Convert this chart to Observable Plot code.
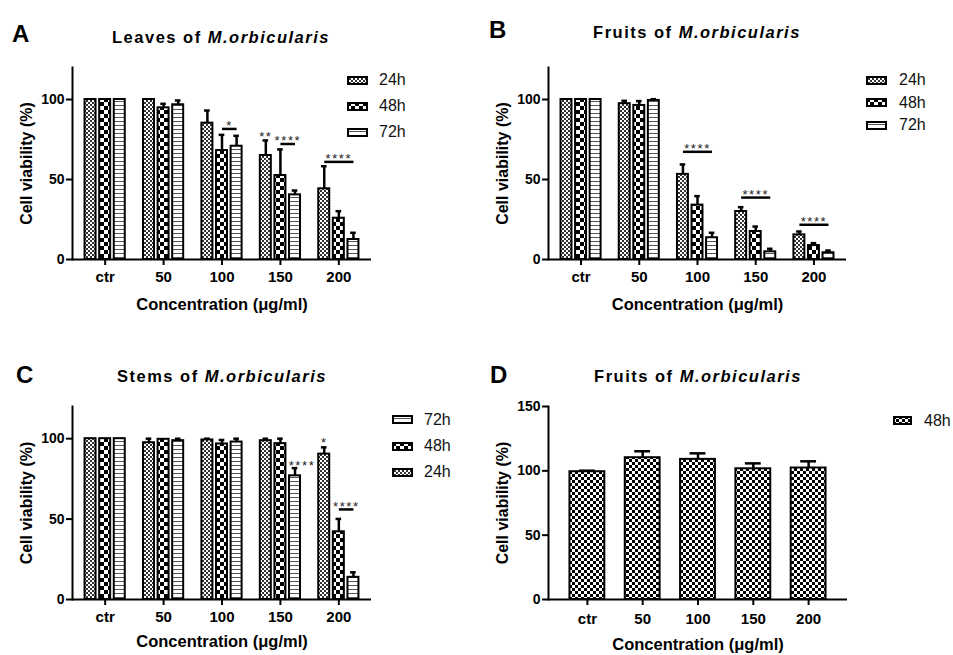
<!DOCTYPE html>
<html>
<head>
<meta charset="utf-8">
<script src="https://cdn.jsdelivr.net/npm/d3@7"></script>
<script src="https://cdn.jsdelivr.net/npm/@observablehq/plot@0.6"></script>
<style>
  body { margin: 0; background: #fff; font-family: "Liberation Sans", Arial, sans-serif; }
  #root { position: relative; width: 953px; height: 655px; overflow: hidden; background: #fff; }
  .abs { position: absolute; white-space: nowrap; line-height: 1; color: #000; }
  .letter { font-size: 24px; font-weight: bold; line-height: 24px; }
  .title { font-size: 16.5px; font-weight: bold; line-height: 16.5px; letter-spacing: 1.5px; transform: translateX(-50%); }
  .legtext { font-size: 16px; line-height: 16px; color: #111; }
  svg [aria-label="x-axis tick label"] { font-size: 15px; }
  svg [aria-label="y-axis label"] { font-size: 16px; }
  svg [aria-label="x-axis label"] { font-size: 16.5px; }
  svg [aria-label="text"] text { letter-spacing: 1.6px; }
</style>
</head>
<body>
<svg width="0" height="0" style="position:absolute">
  <defs>
    <pattern id="p24" width="4" height="4" patternUnits="userSpaceOnUse">
      <rect width="4" height="4" fill="#fff"/><rect width="2" height="2" fill="#333"/><rect x="2" y="2" width="2" height="2" fill="#333"/>
    </pattern>
    <pattern id="p48" width="8" height="8" patternUnits="userSpaceOnUse">
      <rect width="8" height="8" fill="#fff"/><rect width="4" height="4" fill="#000"/><rect x="4" y="4" width="4" height="4" fill="#000"/>
    </pattern>
    <pattern id="p72" width="4" height="4" patternUnits="userSpaceOnUse">
      <rect width="4" height="4" fill="#fff"/><rect y="3" width="4" height="1" fill="#555"/>
    </pattern>
    <pattern id="pD" width="6" height="6" patternUnits="userSpaceOnUse">
      <rect width="6" height="6" fill="#fff"/><rect width="3" height="3" fill="#000"/><rect x="3" y="3" width="3" height="3" fill="#000"/>
    </pattern>
  </defs>
</svg>
<div id="root"></div>
<script>
// ---------- data ----------
const concentrations = ["ctr", "50", "100", "150", "200"];
const timePoints = ["24h", "48h", "72h"];
const yTicksABC = [0, 50, 100];
const yTicksD = [0, 50, 100, 150];

// A: Leaves of M.orbicularis
const leaves24 = [100, 100, 85.2, 65.0, 44.2];
const leaves24Err = [0, 0, 7.9, 9.4, 14.1];
const leaves48 = [100, 94.8, 68.1, 52.5, 25.8];
const leaves48Err = [0, 2.5, 9.8, 16.3, 4.4];
const leaves72 = [100, 96.7, 70.8, 40.4, 12.5];
const leaves72Err = [0, 2.7, 6.5, 2.7, 4.2];
const leavesBrackets = [
  {c: "100", from: "48h", to: "72h", y: 81.6, label: "*"},
  {c: "150", from: "48h", to: "72h", y: 72.2, label: "****"},
  {c: "200", from: "24h", to: "72h", y: 61.0, label: "****"}
];
const leavesStars = [{c: "150", s: "24h", y: 74, label: "**"}];
const leavesSideStars = [];

// B: Fruits of M.orbicularis
const fruits24 = [100, 97.4, 53.2, 30.0, 15.4];
const fruits24Err = [0, 1.8, 6.2, 2.7, 2.1];
const fruits48 = [100, 96.3, 34.0, 17.5, 8.7];
const fruits48Err = [0, 2.7, 5.6, 3.1, 1.5];
const fruits72 = [100, 99.4, 13.6, 4.8, 4.2];
const fruits72Err = [0, 0.8, 3.1, 1.9, 1.4];
const fruitsBrackets = [
  {c: "100", from: "24h", to: "72h", y: 67.3, label: "****"},
  {c: "150", from: "24h", to: "72h", y: 38.7, label: "****"},
  {c: "200", from: "24h", to: "72h", y: 21.7, label: "****"}
];
const fruitsStars = [];
const fruitsSideStars = [];

// C: Stems of M.orbicularis
const stems24 = [100, 97.5, 99.2, 98.75, 90.4];
const stems24Err = [0, 2.5, 0.8, 1.2, 4.2];
const stems48 = [100, 99.6, 96.7, 96.9, 42.1];
const stems48Err = [0, 0, 2.5, 3.1, 8.0];
const stems72 = [100, 98.75, 97.9, 76.9, 13.8];
const stems72Err = [0, 1.2, 2.1, 4.8, 3.1];
const stemsBrackets = [{c: "200", from: "48h", to: "72h", y: 56.0, label: "****"}];
const stemsStars = [{c: "200", s: "24h", y: 94.6, label: "*"}];
const stemsSideStars = [{c: "150", s: "72h", y: 80.8, label: "****"}];

// D: Fruits of M.orbicularis, 48h
const fruitsD48 = [99.3, 110.2, 108.9, 101.6, 102.2];
const fruitsD48Err = [0.8, 5.0, 4.7, 4.2, 5.2];

// ---------- helpers ----------
const patterns = {"24h": "url(#p24)", "48h": "url(#p48)", "72h": "url(#p72)"};
const FONT = '"Liberation Sans", Arial, sans-serif';
const key = (c, t) => `${c}|${t}`;
function slotDomain() {
  const d = [];
  concentrations.forEach((c, i) => {
    if (i > 0) d.push(`gap|${c}`);
    timePoints.forEach(t => d.push(key(c, t)));
  });
  return d;
}
function buildRows(v24, e24, v48, e48, v72, e72) {
  const vals = {"24h": [v24, e24], "48h": [v48, e48], "72h": [v72, e72]};
  const rows = [];
  for (const t of timePoints) concentrations.forEach((c, i) => rows.push({c, s: t, v: vals[t][0][i], e: vals[t][1][i]}));
  return rows;
}

function groupedChart({rows, brackets, stars, sideStars, height, marginTop, marginBottom, marginRight, xLabelOffset}) {
  const withErr = rows.filter(d => d.e > 0);
  const mid3 = brackets.filter(b => b.from === "24h");
  const mid2 = brackets.filter(b => b.from === "48h");
  const starStyle = {fontSize: 13, fontWeight: "normal", fill: "#222", lineAnchor: "bottom"};
  return Plot.plot({
    width: 476 + (marginRight > 105 ? 1 : 0), height,
    marginLeft: 72, marginRight, marginTop, marginBottom,
    style: {fontFamily: FONT, fontSize: "14px", fontWeight: "bold", color: "#000", background: "transparent", overflow: "visible"},
    x: {type: "band", domain: slotDomain(), paddingInner: 0.247, paddingOuter: 0.86, round: false},
    y: {domain: [0, 120]},
    color: {type: "identity"},
    marks: [
      Plot.barY(rows, {x: d => key(d.c, d.s), y: "v", fill: d => patterns[d.s], stroke: "#000", strokeWidth: 2}),
      Plot.ruleX(withErr, {x: d => key(d.c, d.s), y1: "v", y2: d => d.v + d.e, stroke: "#000", strokeWidth: 2.5}),
      Plot.tickY(withErr, {x: d => key(d.c, d.s), y: d => d.v + d.e, stroke: "#000", strokeWidth: 2.5, insetLeft: 2.7, insetRight: 2.7}),
      Plot.link(brackets, {x1: d => key(d.c, d.from), x2: d => key(d.c, d.to), y1: "y", y2: "y", stroke: "#000", strokeWidth: 2.5}),
      Plot.text(mid3, {x: d => key(d.c, "48h"), y: "y", text: "label", dy: 1.5, ...starStyle}),
      Plot.text(mid2, {x: d => key(d.c, "48h"), y: "y", text: "label", dy: 1.5, dx: 7.5, ...starStyle}),
      Plot.text(stars, {x: d => key(d.c, d.s), y: "y", text: "label", ...starStyle}),
      Plot.text(sideStars, {x: d => key(d.c, d.s), y: "y", text: "label", dx: 7, ...starStyle}),
      Plot.ruleY([0], {stroke: "#000", strokeWidth: 2}),
      Plot.frame({anchor: "left", stroke: "#000", strokeWidth: 2}),
      Plot.axisY({ticks: yTicksABC, tickSize: 6, tickPadding: 2, strokeWidth: 2, label: "Cell viability (%)", labelArrow: "none", labelAnchor: "center", labelOffset: 51.5}),
      Plot.axisX({ticks: concentrations.map(c => key(c, "48h")), tickFormat: d => d.split("|")[0], tickSize: 6, tickPadding: 6, strokeWidth: 2,
                  label: "Concentration (μg/ml)", labelArrow: "none", labelAnchor: "center", labelOffset: xLabelOffset})
    ]
  });
}

function singleChart() {
  const rows = concentrations.map((c, i) => ({c, v: fruitsD48[i], e: fruitsD48Err[i]}));
  return Plot.plot({
    width: 477, height: 265,
    marginLeft: 72, marginRight: 106, marginTop: 16, marginBottom: 56,
    style: {fontFamily: FONT, fontSize: "14px", fontWeight: "bold", color: "#000", background: "transparent", overflow: "visible"},
    x: {type: "band", domain: concentrations, paddingInner: 0.37, paddingOuter: 0.388, round: false},
    y: {domain: [0, 150]},
    marks: [
      Plot.barY(rows, {x: "c", y: "v", fill: "url(#pD)", stroke: "#000", strokeWidth: 2}),
      Plot.ruleX(rows, {x: "c", y1: "v", y2: d => d.v + d.e, stroke: "#000", strokeWidth: 2.5}),
      Plot.tickY(rows, {x: "c", y: d => d.v + d.e, stroke: "#000", strokeWidth: 2.5, insetLeft: 9.5, insetRight: 9.5}),
      Plot.ruleY([0], {stroke: "#000", strokeWidth: 2}),
      Plot.frame({anchor: "left", stroke: "#000", strokeWidth: 2}),
      Plot.axisY({ticks: yTicksD, tickSize: 6, tickPadding: 2, strokeWidth: 2, label: "Cell viability (%)", labelArrow: "none", labelAnchor: "center", labelOffset: 51.5}),
      Plot.axisX({tickSize: 6, tickPadding: 8, strokeWidth: 2, label: "Concentration (μg/ml)", labelArrow: "none", labelAnchor: "center", labelOffset: 50})
    ]
  });
}

// ---------- layout ----------
const root = document.getElementById("root");
function place(el, left, top) {
  el.style.position = "absolute"; el.style.left = left + "px"; el.style.top = top + "px";
  root.appendChild(el);
}
function addText(cls, html, left, top) {
  const d = document.createElement("div");
  d.className = "abs " + cls; d.innerHTML = html;
  d.style.left = left + "px"; d.style.top = top + "px";
  root.appendChild(d);
}
function addLegend(items, swatchX, textX, centers, swatchW) {
  items.forEach((it, i) => {
    const s = document.createElementNS("http://www.w3.org/2000/svg", "svg");
    s.setAttribute("width", swatchW); s.setAttribute("height", 9);
    s.innerHTML = `<rect x="1" y="1" width="${swatchW - 2}" height="7" fill="${it.fill}" stroke="#000" stroke-width="2"/>`;
    place(s, swatchX, centers[i] - 4.5);
    addText("legtext", it.label, textX, centers[i] - 7.8);
  });
}

const leavesRows = buildRows(leaves24, leaves24Err, leaves48, leaves48Err, leaves72, leaves72Err);
const fruitsRows = buildRows(fruits24, fruits24Err, fruits48, fruits48Err, fruits72, fruits72Err);
const stemsRows = buildRows(stems24, stems24Err, stems48, stems48Err, stems72, stems72Err);

place(groupedChart({rows: leavesRows, brackets: leavesBrackets, stars: leavesStars, sideStars: leavesSideStars, height: 270, marginTop: 17, marginBottom: 61, marginRight: 105, xLabelOffset: 50}), 0, 50);
place(groupedChart({rows: fruitsRows, brackets: fruitsBrackets, stars: fruitsStars, sideStars: fruitsSideStars, height: 270, marginTop: 17, marginBottom: 61, marginRight: 107, xLabelOffset: 50}), 476, 50);
place(groupedChart({rows: stemsRows, brackets: stemsBrackets, stars: stemsStars, sideStars: stemsSideStars, height: 265, marginTop: 16, marginBottom: 56, marginRight: 105, xLabelOffset: 47}), 0, 390);
place(singleChart(), 476, 390);

addText("letter", "A", 12, 22);
addText("letter", "B", 489, 18);
addText("letter", "C", 16, 363);
addText("letter", "D", 490, 363);

addText("title", "Leaves of <i>M.orbicularis</i>", 221, 29.3);
addText("title", "Fruits of <i>M.orbicularis</i>", 697, 24.3);
addText("title", "Stems of <i>M.orbicularis</i>", 222, 367.8);
addText("title", "Fruits of <i>M.orbicularis</i>", 698, 367.8);

const legendStd = timePoints.map(t => ({label: t, fill: patterns[t]}));
addLegend(legendStd, 347, 379, [80, 106, 132], 21);
addLegend(legendStd, 866, 899, [80, 102.5, 125], 21);
addLegend(legendStd.slice().reverse(), 392, 424, [419.5, 446, 472], 21);
addLegend([{label: "48h", fill: "url(#pD)"}], 893, 924, [420.5], 19);
</script>
</body>
</html>
